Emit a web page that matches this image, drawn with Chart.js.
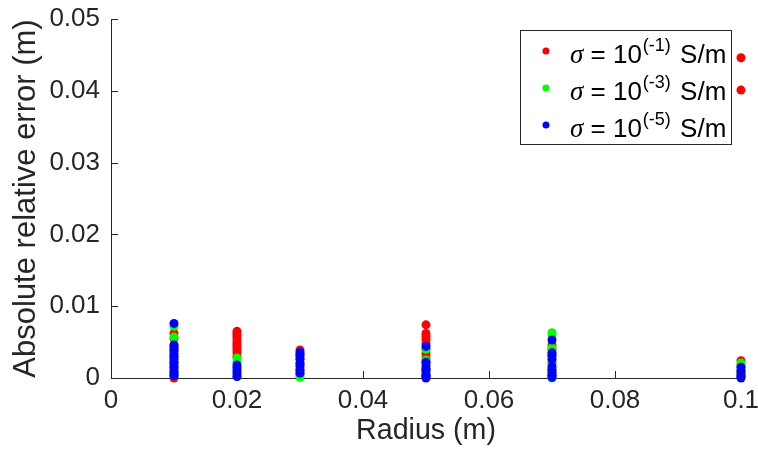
<!DOCTYPE html>
<html>
<head>
<meta charset="utf-8">
<script src="https://cdn.jsdelivr.net/npm/chart.js@4/dist/chart.umd.min.js"></script>
<style>
  html, body { margin: 0; padding: 0; background: #fff; }
  #wrap { width: 758px; height: 450px; }
</style>
</head>
<body>
<div id="wrap"><canvas id="myChart" width="758" height="450"></canvas></div>
<script>
// radii where the errors were measured (m)
const radii = [0.01, 0.02, 0.03, 0.05, 0.07, 0.1];

// absolute relative error per radius, one list per conductivity
const errSigma1 = [
	[0.0062, 0.0055, 0.0045, 0.0038, 0.0030, 0.0022, 0.0015, 0.0008, 0.0003, 0.0000],
	[0.0065, 0.0062, 0.0059, 0.0056, 0.0052, 0.0048, 0.0045, 0.0042, 0.0039, 0.0035, 0.0030],
	[0.0039, 0.0033, 0.0027, 0.0020, 0.0012, 0.0005],
	[0.0074, 0.0062, 0.0058, 0.0054, 0.0048, 0.0040, 0.0034, 0.0028, 0.0022, 0.0012, 0.0004],
	[0.0046, 0.0040, 0.0030, 0.0022, 0.0012, 0.0004],
	[0.0446, 0.0401, 0.0024, 0.0018, 0.0010, 0.0004]
];
const errSigma3 = [
	[0.0072, 0.0057, 0.0042, 0.0030, 0.0018, 0.0008, 0.0003],
	[0.0028, 0.0022, 0.0015, 0.0008, 0.0002],
	[0.0030, 0.0018, 0.0008, 0.0001],
	[0.0040, 0.0025, 0.0012, 0.0004],
	[0.0063, 0.0060, 0.0042, 0.0036, 0.0020, 0.0008, 0.0000],
	[0.0021, 0.0014, 0.0008, 0.0002]
];
const errSigma5 = [
	[0.0076, 0.0046, 0.0042, 0.0038, 0.0034, 0.0030, 0.0026, 0.0022, 0.0018, 0.0014, 0.0010, 0.0006, 0.0003],
	[0.0018, 0.0014, 0.0010, 0.0006, 0.0002],
	[0.0036, 0.0031, 0.0026, 0.0021, 0.0016, 0.0011, 0.0007],
	[0.0044, 0.0022, 0.0017, 0.0013, 0.0009, 0.0005, 0.0002, 0.0000],
	[0.0053, 0.0035, 0.0032, 0.0026, 0.0016, 0.0011, 0.0007, 0.0004, 0.0001],
	[0.0015, 0.0010, 0.0006, 0.0002, 0.0000]
];

const exponents = ['-1', '-3', '-5'];
const colors = ['#ff0000', '#00ff00', '#0000ff'];
const xTicks = [0, 0.02, 0.04, 0.06, 0.08, 0.1];
const yTicks = [0, 0.01, 0.02, 0.03, 0.04, 0.05];

const axisColor = '#262626';
const sans = "'Liberation Sans', Arial, Helvetica, sans-serif";

function toPoints(errs){
	var pts = [];
	for (let i=0;i<radii.length;i++){
		for (let j=0;j<errs[i].length;j++){
			pts.push({x: radii[i], y: errs[i][j]});
		}
	}
	return pts;
}

const allErrors = [errSigma1, errSigma3, errSigma5];
const datasets = [];
for (let k=0;k<allErrors.length;k++){
	datasets.push({
		label: 'σ = 10^(' + exponents[k] + ') S/m',
		data: toPoints(allErrors[k]),
		backgroundColor: colors[k],
		borderWidth: 0,
		pointRadius: 4.5,
		pointHoverRadius: 4.5,
		order: allErrors.length - k, // later series on top, like matlab
		clip: false
	});
}

// MATLAB style inward ticks
const inwardTicks = {
	id: 'inwardTicks',
	afterDraw(chart){
		const ctx = chart.ctx;
		const xs = chart.scales.x, ys = chart.scales.y;
		const a = chart.chartArea;
		ctx.save();
		ctx.strokeStyle = axisColor;
		ctx.lineWidth = 1;
		ctx.beginPath();
		xTicks.forEach(v => {
			const px = Math.round(xs.getPixelForValue(v)) + 0.5;
			ctx.moveTo(px, a.bottom);
			ctx.lineTo(px, a.bottom - 7);
		});
		yTicks.forEach(v => {
			const py = Math.round(ys.getPixelForValue(v)) + 0.5;
			ctx.moveTo(a.left, py);
			ctx.lineTo(a.left + 7, py);
		});
		ctx.stroke();
		ctx.restore();
	}
};

// boxed legend with superscript exponent
const sigmaLegend = {
	id: 'sigmaLegend',
	afterDraw(chart){
		const ctx = chart.ctx;
		const bx = 520.5, by = 30.5, bw = 211, bh = 114;
		ctx.save();
		ctx.fillStyle = '#fff';
		ctx.fillRect(bx, by, bw, bh);
		ctx.strokeStyle = axisColor;
		ctx.lineWidth = 1;
		ctx.strokeRect(bx, by, bw, bh);
		ctx.textBaseline = 'alphabetic';
		for (let k=0;k<exponents.length;k++){
			const cy = 51 + k * 37;
			ctx.fillStyle = colors[k];
			ctx.beginPath();
			ctx.arc(546, cy, 3.5, 0, Math.PI * 2);
			ctx.fill();
			const base = cy + 12;
			let x = 570;
			ctx.fillStyle = '#000';
			ctx.font = "italic 27px 'Liberation Serif', 'Times New Roman', serif";
			ctx.fillText('σ', x, base);
			x += ctx.measureText('σ').width;
			ctx.font = '26px ' + sans;
			ctx.fillText(' = 10', x, base);
			x += ctx.measureText(' = 10').width + 1;
			ctx.font = '18px ' + sans;
			const sup = '(' + exponents[k] + ')';
			ctx.fillText(sup, x, base - 12);
			x += ctx.measureText(sup).width + 2;
			ctx.font = '26px ' + sans;
			ctx.fillText(' S/m', x, base);
		}
		ctx.restore();
	}
};

const fmt = v => String(+(+v).toFixed(4));

const ctx = document.getElementById('myChart').getContext('2d');
const myChart = new Chart(ctx, {
	type: 'scatter',
	data: { datasets: datasets },
	options: {
		responsive: false,
		animation: false,
		events: [],
		layout: { padding: { top: 19, right: 17, left: 0, bottom: 0 } },
		plugins: {
			legend: { display: false },
			tooltip: { enabled: false }
		},
		scales: {
			x: {
				type: 'linear',
				min: 0,
				max: 0.1,
				afterFit(scale){
					scale.height = 72;
					scale.paddingLeft = 0;
					scale.paddingRight = 0;
				},
				afterBuildTicks(scale){ scale.ticks = xTicks.map(v => ({value: v})); },
				ticks: {
					callback: fmt,
					color: axisColor,
					padding: 7,
					maxRotation: 0,
					font: { family: sans, size: 26 }
				},
				grid: { display: true, drawOnChartArea: false, drawTicks: false },
				border: { display: true, color: axisColor, width: 1 },
				title: {
					display: true,
					text: 'Radius (m)',
					color: axisColor,
					padding: { top: 0, bottom: 2 },
					font: { family: sans, size: 28.6 }
				}
			},
			y: {
				type: 'linear',
				min: 0,
				max: 0.05,
				afterFit(scale){
					scale.width = 111;
					scale.paddingTop = 0;
					scale.paddingBottom = 0;
				},
				afterBuildTicks(scale){ scale.ticks = yTicks.map(v => ({value: v})); },
				ticks: {
					callback: fmt,
					color: axisColor,
					padding: 11,
					font: { family: sans, size: 26 }
				},
				grid: { display: true, drawOnChartArea: false, drawTicks: false },
				border: { display: true, color: axisColor, width: 1 },
				title: {
					display: true,
					text: 'Absolute relative error (m)',
					color: axisColor,
					padding: { top: 8, bottom: 0 },
					font: { family: sans, size: 31 }
				}
			}
		}
	},
	plugins: [inwardTicks, sigmaLegend]
});
</script>
</body>
</html>
